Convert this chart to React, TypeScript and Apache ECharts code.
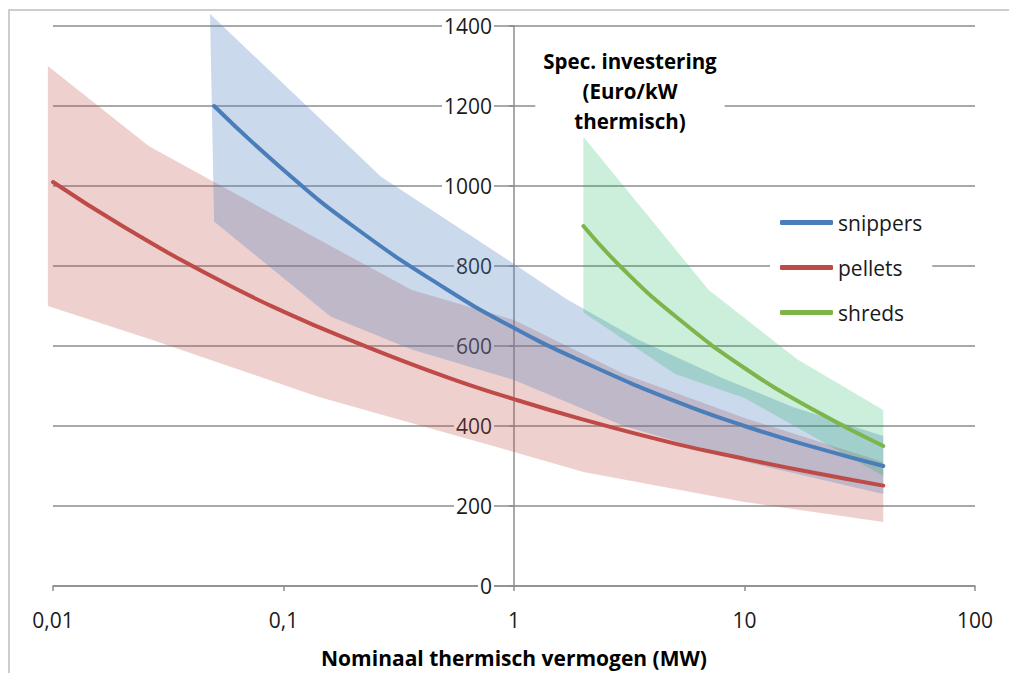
import React, { useEffect, useRef } from "react";
import * as echarts from "echarts";

// Centre lines (x in MW, y in Euro/kW)
const pelletsX = [0.01, 0.02, 0.05, 0.1, 0.2, 0.5, 1, 2, 5, 10, 20, 40];
const pelletsY = [1010, 900, 771, 686, 612, 524, 467, 416, 356, 318, 283, 251];
const snippersX = [0.05, 0.1, 0.2, 0.5, 1, 2, 5, 10, 20, 40];
const snippersY = [1200, 1040, 900, 745, 645, 560, 462, 400, 347, 300];
const shredsX = [2, 3, 5, 10, 20, 40];
const shredsY = [900, 790, 675, 545, 440, 350];

// Ranges (bands)
const pelletsUpperX = [0.0095, 0.026, 0.05, 0.16, 0.36, 1, 3, 10, 40];
const pelletsUpperY = [1300, 1100, 1010, 850, 740, 665, 530, 420, 310];
const pelletsLowerX = [0.0095, 0.027, 0.14, 1, 2, 10, 40];
const pelletsLowerY = [700, 615, 474, 335, 285, 210, 160];
const snippersUpperX = [0.048, 0.265, 1, 1.7, 3.45, 8, 16, 40];
const snippersUpperY = [1430, 1023, 805, 716, 616, 520, 449, 375];
const snippersLowerX = [0.05, 0.16, 0.36, 1, 3, 10, 40];
const snippersLowerY = [911, 674, 591, 515, 400, 311, 230];
const shredsUpperX = [2, 7, 17, 40];
const shredsUpperY = [1123, 740, 566, 440];
const shredsLowerX = [2, 5, 10, 40];
const shredsLowerY = [684, 530, 470, 275];

const seriesNames = ["snippers", "pellets", "shreds"];
const titleLines = ["Spec. investering", "(Euro/kW", "thermisch)"];
const xAxisName = "Nominaal thermisch vermogen (MW)";

const zip = (xs: number[], ys: number[]) => xs.map((x, i) => [x, ys[i]]);

const FONT = '"Open Sans", "Liberation Sans", sans-serif';

function band(name: string, ux: number[], uy: number[], lx: number[], ly: number[], fill: string, z: number) {
  const upper = zip(ux, uy);
  const lower = zip(lx, ly);
  return {
    type: "custom",
    name,
    silent: true,
    z,
    data: [[1, 0]],
    encode: { x: 0, y: 1 },
    renderItem: (_params: any, api: any) => {
      const pts = [
        ...upper.map((p) => api.coord(p)),
        ...lower.slice().reverse().map((p) => api.coord(p)),
      ];
      return { type: "polygon", shape: { points: pts }, style: { fill } };
    },
  };
}

function line(name: string, xs: number[], ys: number[], color: string) {
  return {
    type: "line",
    name,
    data: zip(xs, ys),
    smooth: true,
    showSymbol: false,
    symbol: "none",
    z: 5,
    lineStyle: { color, width: 4, cap: "round" },
    itemStyle: { color },
  };
}

export default function App() {
  const ref = useRef<HTMLDivElement>(null);
  useEffect(() => {
    if (!ref.current) return;
    const chart = echarts.init(ref.current, undefined, { renderer: "svg" });
    const option: any = {
      animation: false,
      textStyle: { fontFamily: FONT },
      grid: { left: 53, right: 34, top: 26, bottom: 86 },
      xAxis: {
        type: "log",
        logBase: 10,
        min: 0.01,
        max: 100,
        name: xAxisName,
        nameLocation: "middle",
        nameGap: 61,
        nameTextStyle: { fontSize: 21, fontWeight: "bold", color: "#000", fontFamily: FONT },
        axisLine: { show: true, lineStyle: { color: "#8c8c8c", width: 1.5 } },
        axisTick: { show: true, length: 5, lineStyle: { color: "#8c8c8c", width: 1.5 } },
        minorTick: { show: false },
        splitLine: { show: false },
        axisLabel: {
          fontSize: 21,
          color: "#1a1a1a",
          margin: 23,
          fontFamily: FONT,
          formatter: (v: number) => Number(v.toPrecision(6)).toString().replace(".", ","),
        },
      },
      yAxis: {
        type: "value",
        min: 0,
        max: 1400,
        interval: 200,
        offset: -461,
        axisLine: { show: true, onZero: false, lineStyle: { color: "#8c8c8c", width: 1.5 } },
        axisTick: { show: true, length: 5, lineStyle: { color: "#8c8c8c", width: 1.5 } },
        splitLine: { show: true, lineStyle: { color: "#8c8c8c", width: 1.5 } },
        axisLabel: {
          fontSize: 21,
          color: "#1a1a1a",
          margin: 20,
          fontFamily: FONT,
          backgroundColor: "#fff",
          padding: [0, 2],
          formatter: (v: number) => String(v),
        },
      },
      legend: {
        data: seriesNames,
        orient: "vertical",
        left: 770,
        top: 204,
        itemWidth: 53,
        itemHeight: 5,
        itemGap: 24,
        icon: "roundRect",
        selectedMode: false,
        backgroundColor: "#fff",
        padding: [8, 10],
        textStyle: { fontSize: 21, color: "#1a1a1a", fontFamily: FONT },
      },
      graphic: [
        {
          type: "rect",
          z: -10,
          silent: true,
          shape: { x: 9, y: 10, width: 1100, height: 800 },
          style: { fill: "none", stroke: "#bdbdbd", lineWidth: 1.5 },
        },
        {
          type: "text",
          z: 100,
          x: 630,
          y: 44,
          style: {
            text: titleLines.join("\n"),
            font: `bold 20.5px ${FONT}`,
            fill: "#000",
            textAlign: "center",
            lineHeight: 30,
            backgroundColor: "#fff",
            padding: [2, 8],
          },
        },
      ],
      series: [
        band("pellets band", pelletsUpperX, pelletsUpperY, pelletsLowerX, pelletsLowerY, "rgba(192,80,77,0.27)", 2),
        band("snippers band", snippersUpperX, snippersUpperY, snippersLowerX, snippersLowerY, "rgba(79,129,189,0.3)", 3),
        band("shreds band", shredsUpperX, shredsUpperY, shredsLowerX, shredsLowerY, "rgba(0,176,80,0.2)", 4),
        line("pellets", pelletsX, pelletsY, "#BE4B48"),
        line("snippers", snippersX, snippersY, "#4A7EBB"),
        line("shreds", shredsX, shredsY, "#7DB54A"),
      ],
    };
    chart.setOption(option);
    return () => chart.dispose();
  }, []);
  return (
    <div
      ref={ref}
      style={{ position: "fixed", left: 0, top: 0, width: 1009, height: 673, background: "#fff" }}
    />
  );
}
